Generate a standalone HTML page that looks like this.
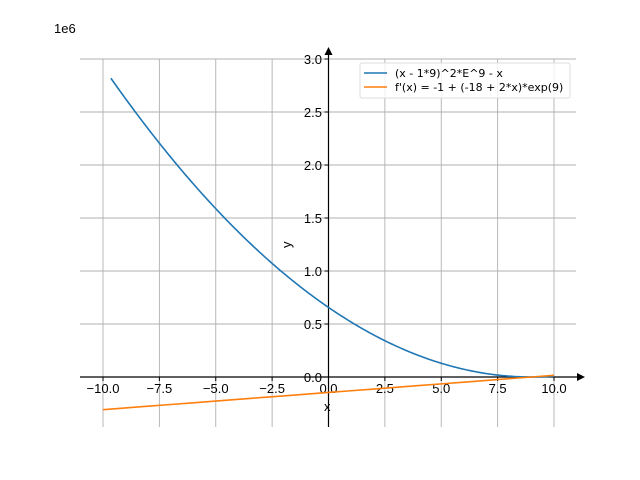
<!DOCTYPE html>
<html><head><style>body{margin:0;background:#fff}svg{display:block}text{font-family:"Liberation Sans","DejaVu Sans",sans-serif;font-size:13px;fill:#000}</style></head>
<body>
<svg id="s" width="640" height="480" xmlns="http://www.w3.org/2000/svg">
<g id="grid" stroke="#b0b0b0" stroke-width="0.9"></g>
<g id="ticks"></g>
<line x1="80" y1="377" x2="580" y2="377" stroke="#000" stroke-width="1.2"/>
<polygon points="585,377 577,373 577,381" fill="#000"/>
<line x1="328.5" y1="427" x2="328.5" y2="53" stroke="#000" stroke-width="1.2"/>
<polygon points="328.5,47 324.5,55 332.5,55" fill="#000"/>
<path id="p1" fill="none" stroke="#1f77b4" stroke-width="1.6"/>
<path id="p2" fill="none" stroke="#ff7f0e" stroke-width="1.6"/>
<text x="54" y="33">1e6</text>
<text x="324" y="411">x</text>
<text transform="translate(291,248) rotate(-90)">y</text>
<rect x="360" y="63" width="210" height="35" rx="2" fill="#fff" fill-opacity="0.8" stroke="#ddd"/>
<line x1="364" y1="73" x2="387" y2="73" stroke="#1f77b4" stroke-width="1.6"/>
<line x1="364" y1="87" x2="387" y2="87" stroke="#ff7f0e" stroke-width="1.6"/>
<text x="395" y="77" style="font-family:'DejaVu Sans',sans-serif;font-size:11px">(x - 1*9)^2*E^9 - x</text>
<text x="395" y="91" style="font-family:'DejaVu Sans',sans-serif;font-size:11px">f'(x) = -1 + (-18 + 2*x)*exp(9)</text>
</svg>
<script>
var X=function(x){return 328.5+x*22.55},Y=function(y){return 377-y*106/1e6};
var g=document.getElementById('grid'),t=document.getElementById('ticks'),h='',tk='';
for(var i=-4;i<=4;i++){var x=X(i*2.5);h+='<line x1="'+x+'" y1="59" x2="'+x+'" y2="427"/>';
tk+='<line x1="'+x+'" y1="377" x2="'+x+'" y2="381" stroke="#000"/><text x="'+x+'" y="393" text-anchor="middle">'+(i*2.5).toFixed(1).replace('-','\u2212')+'</text>';}
for(var k=0;k<=6;k++){var y=377-53*k;h+='<line x1="80" y1="'+y+'" x2="576" y2="'+y+'"/>';
tk+='<line x1="324.5" y1="'+y+'" x2="328.5" y2="'+y+'" stroke="#000"/><text x="322" y="'+(y+5)+'" text-anchor="end">'+(k*0.5).toFixed(1)+'</text>';}
g.innerHTML=h;t.innerHTML=tk;
var e9=Math.exp(9),a='',b='';
for(var n=0;n<=200;n++){var x=-9.65+n*(19.65/200);a+=(n?'L':'M')+X(x).toFixed(2)+' '+Y((x-9)*(x-9)*e9-x).toFixed(2);}
for(var n=0;n<=20;n++){var x=-10+n;b+=(n?'L':'M')+X(x).toFixed(2)+' '+Y(-1+(2*x-18)*e9).toFixed(2);}
document.getElementById('p1').setAttribute('d',a);document.getElementById('p2').setAttribute('d',b);
</script>
</body></html>
